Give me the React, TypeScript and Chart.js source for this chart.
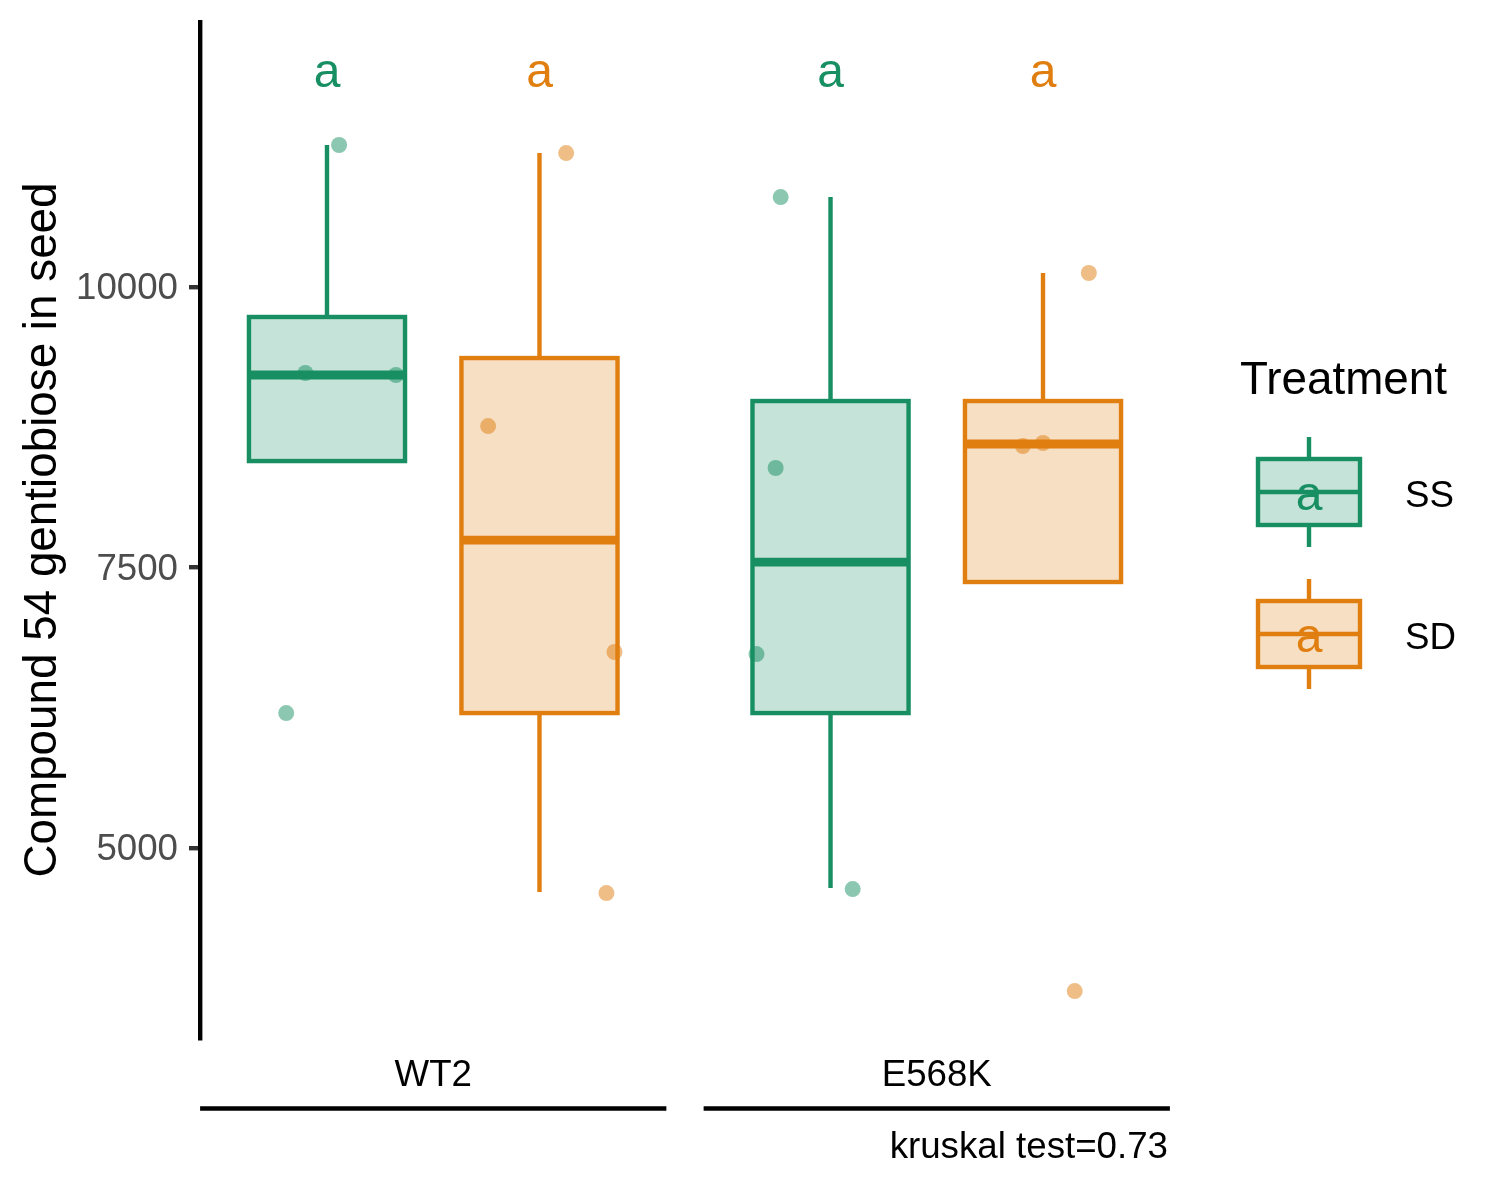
import React, { useEffect, useRef } from "react";
import { Chart, registerables } from "chart.js";

Chart.register(...registerables);

// ---------- data ----------
const categories = ["WT2", "E568K"];
const treatments = ["SS", "SD"];
const yTickValues = [5000, 7500, 10000];
const yAxisMin = 3307;
const yAxisMax = 12362;
const yTitle = "Compound 54 gentiobiose in seed";
const legendTitle = "Treatment";
const testLabel = "kruskal test=0.73";

// box statistics per category (WT2, E568K)
const ssQ1 = [8449, 6203];
const ssMedian = [9216, 7549];
const ssQ3 = [9733, 8984];
const ssWhiskerLow = [8449, 4643];
const ssWhiskerHigh = [11266, 10802];

const sdQ1 = [6203, 7371];
const sdMedian = [7745, 8601];
const sdQ3 = [9367, 8984];
const sdWhiskerLow = [4608, 7371];
const sdWhiskerHigh = [11194, 10125];

// individual observations and their jitter offsets from the category centre
const ssValuesWT2 = [11266, 9234, 9216, 6203];
const ssJitterWT2 = [-0.187, -0.254, -0.074, -0.292];
const ssValuesE568K = [10802, 8387, 6729, 4634];
const ssJitterE568K = [-0.31, -0.32, -0.358, -0.167];

const sdValuesWT2 = [11194, 8761, 6747, 4599];
const sdJitterWT2 = [0.264, 0.109, 0.36, 0.344];
const sdValuesE568K = [10125, 8583, 8610, 3725];
const sdJitterE568K = [0.302, 0.171, 0.211, 0.274];

// significance letters
const ssLetters = ["a", "a"];
const sdLetters = ["a", "a"];
const letterLevel = 11780;

// ---------- styling ----------
const FONT = '"Liberation Sans", Arial, Helvetica, sans-serif';
const GREEN = "#178F63";
const ORANGE = "#E07E10";
const GREEN_FILL = "rgba(23,143,99,0.25)";
const ORANGE_FILL = "rgba(224,126,16,0.25)";
const GREEN_PT = "rgba(23,143,99,0.5)";
const ORANGE_PT = "rgba(224,126,16,0.5)";
const DODGE = 0.211;
const BOX_HALF = 0.155;
const LW = 4.4;

const series = [
  {
    name: treatments[0],
    color: GREEN,
    fill: GREEN_FILL,
    dodge: -DODGE,
    q1: ssQ1,
    med: ssMedian,
    q3: ssQ3,
    lo: ssWhiskerLow,
    hi: ssWhiskerHigh,
    letters: ssLetters,
  },
  {
    name: treatments[1],
    color: ORANGE,
    fill: ORANGE_FILL,
    dodge: DODGE,
    q1: sdQ1,
    med: sdMedian,
    q3: sdQ3,
    lo: sdWhiskerLow,
    hi: sdWhiskerHigh,
    letters: sdLetters,
  },
];

const toPoints = (vals: number[], jit: number[], cat: number) =>
  vals.map((v, j) => ({ x: cat + 1 + jit[j], y: v }));

const ssPoints = [
  ...toPoints(ssValuesWT2, ssJitterWT2, 0),
  ...toPoints(ssValuesE568K, ssJitterE568K, 1),
];
const sdPoints = [
  ...toPoints(sdValuesWT2, sdJitterWT2, 0),
  ...toPoints(sdValuesE568K, sdJitterE568K, 1),
];

const boxPlugin = {
  id: "boxplots",
  afterDatasetsDraw(chart: any) {
    const { ctx } = chart;
    const x = chart.scales.x;
    const y = chart.scales.y;
    series.forEach((s) => {
      categories.forEach((_, i) => {
        const c = i + 1 + s.dodge;
        const xl = x.getPixelForValue(c - BOX_HALF);
        const xr = x.getPixelForValue(c + BOX_HALF);
        const xc = x.getPixelForValue(c);
        const p1 = y.getPixelForValue(s.q1[i]);
        const p3 = y.getPixelForValue(s.q3[i]);
        const pm = y.getPixelForValue(s.med[i]);
        const plo = y.getPixelForValue(s.lo[i]);
        const phi = y.getPixelForValue(s.hi[i]);
        ctx.save();
        ctx.strokeStyle = s.color;
        ctx.lineWidth = LW;
        ctx.lineCap = "butt";
        ctx.beginPath();
        ctx.moveTo(xc, p3);
        ctx.lineTo(xc, phi);
        ctx.moveTo(xc, p1);
        ctx.lineTo(xc, plo);
        ctx.stroke();
        ctx.fillStyle = s.fill;
        ctx.fillRect(xl, p3, xr - xl, p1 - p3);
        ctx.strokeRect(xl, p3, xr - xl, p1 - p3);
        ctx.lineWidth = LW * 2;
        ctx.beginPath();
        ctx.moveTo(xl, pm);
        ctx.lineTo(xr, pm);
        ctx.stroke();
        ctx.fillStyle = s.color;
        ctx.font = `48px ${FONT}`;
        ctx.textAlign = "center";
        ctx.textBaseline = "alphabetic";
        ctx.fillText(s.letters[i], xc, y.getPixelForValue(letterLevel));
        ctx.restore();
      });
    });
  },
  afterDraw(chart: any) {
    const { ctx, chartArea } = chart;
    const x = chart.scales.x;
    ctx.save();
    // category underlines
    ctx.strokeStyle = "#000";
    ctx.lineWidth = LW;
    const ly = chartArea.bottom + 70.5;
    categories.forEach((_, i) => {
      ctx.beginPath();
      ctx.moveTo(x.getPixelForValue(i + 1 - 0.463), ly);
      ctx.lineTo(x.getPixelForValue(i + 1 + 0.463), ly);
      ctx.stroke();
    });
    // test caption
    ctx.fillStyle = "#000";
    ctx.font = `36.7px ${FONT}`;
    ctx.textAlign = "right";
    ctx.textBaseline = "alphabetic";
    ctx.fillText(testLabel, chartArea.right - 2, chartArea.bottom + 120);

    // legend
    const lx = chartArea.right + 70;
    ctx.textAlign = "left";
    ctx.font = `45.8px ${FONT}`;
    ctx.fillText(legendTitle, lx, 393.5);
    const keyCx = lx + 69;
    const keyCenters = [492, 634];
    series.forEach((s, k) => {
      const cy = keyCenters[k];
      ctx.strokeStyle = s.color;
      ctx.lineWidth = LW;
      ctx.beginPath();
      ctx.moveTo(keyCx, cy - 55);
      ctx.lineTo(keyCx, cy - 33);
      ctx.moveTo(keyCx, cy + 33);
      ctx.lineTo(keyCx, cy + 55);
      ctx.stroke();
      ctx.fillStyle = s.fill;
      ctx.fillRect(keyCx - 51, cy - 33, 102, 66);
      ctx.strokeRect(keyCx - 51, cy - 33, 102, 66);
      ctx.beginPath();
      ctx.moveTo(keyCx - 51, cy);
      ctx.lineTo(keyCx + 51, cy);
      ctx.stroke();
      ctx.fillStyle = s.color;
      ctx.font = `48px ${FONT}`;
      ctx.textAlign = "center";
      ctx.fillText(s.letters[0], keyCx, cy + 18);
      ctx.fillStyle = "#000";
      ctx.font = `36.7px ${FONT}`;
      ctx.textAlign = "left";
      ctx.fillText(s.name, lx + 165, cy + 14.5);
    });
    ctx.restore();
  },
};

export default function App() {
  const ref = useRef<HTMLCanvasElement>(null);
  useEffect(() => {
    if (!ref.current) return;
    Chart.defaults.font.family = FONT;
    const chart = new Chart(ref.current, {
      type: "scatter",
      data: {
        datasets: [
          {
            label: treatments[0],
            data: ssPoints,
            backgroundColor: GREEN_PT,
            borderWidth: 0,
            pointRadius: 8,
          },
          {
            label: treatments[1],
            data: sdPoints,
            backgroundColor: ORANGE_PT,
            borderWidth: 0,
            pointRadius: 8,
          },
        ],
      },
      options: {
        responsive: false,
        animation: false,
        layout: { padding: { top: 22, right: 330, bottom: 0, left: 0 } },
        plugins: {
          legend: { display: false },
          tooltip: { enabled: false },
        },
        scales: {
          x: {
            type: "linear",
            min: 1 - 0.4632,
            max: 2 + 0.4632,
            afterBuildTicks: (axis: any) => {
              axis.ticks = categories.map((_, i) => ({ value: i + 1 }));
            },
            afterFit: (axis: any) => {
              axis.height = 162;
              axis.paddingLeft = 0;
              axis.paddingRight = 0;
            },
            grid: { display: false, drawTicks: false },
            border: { display: false },
            ticks: {
              padding: 16,
              maxRotation: 0,
              autoSkip: false,
              color: "#000",
              font: { size: 36.7, family: FONT },
              callback: (v: any) => categories[Math.round(Number(v)) - 1] ?? "",
            },
          },
          y: {
            type: "linear",
            min: yAxisMin,
            max: yAxisMax,
            afterBuildTicks: (axis: any) => {
              axis.ticks = yTickValues.map((v) => ({ value: v }));
            },
            afterFit: (axis: any) => {
              axis.width = 200;
              axis.paddingTop = 0;
              axis.paddingBottom = 0;
            },
            grid: {
              display: true,
              drawOnChartArea: false,
              drawTicks: true,
              tickLength: 11,
              lineWidth: LW,
              color: "#333333",
            },
            border: { display: true, color: "#000", width: LW },
            ticks: {
              padding: 11,
              labelOffset: 2,
              color: "#4D4D4D",
              font: { size: 36.7, family: FONT },
              callback: (v: any) => String(v),
            },
            title: {
              display: true,
              text: yTitle,
              color: "#000",
              font: { size: 45.8, family: FONT },
              padding: { top: 16, bottom: 0 },
            },
          },
        },
      },
      plugins: [boxPlugin],
    } as any);
    return () => chart.destroy();
  }, []);
  return (
    <div
      style={{
        position: "absolute",
        left: 0,
        top: 0,
        width: 1500,
        height: 1200,
        background: "#fff",
      }}
    >
      <canvas
        ref={ref}
        width={1500}
        height={1200}
        style={{ display: "block", width: 1500, height: 1200 }}
      />
    </div>
  );
}
